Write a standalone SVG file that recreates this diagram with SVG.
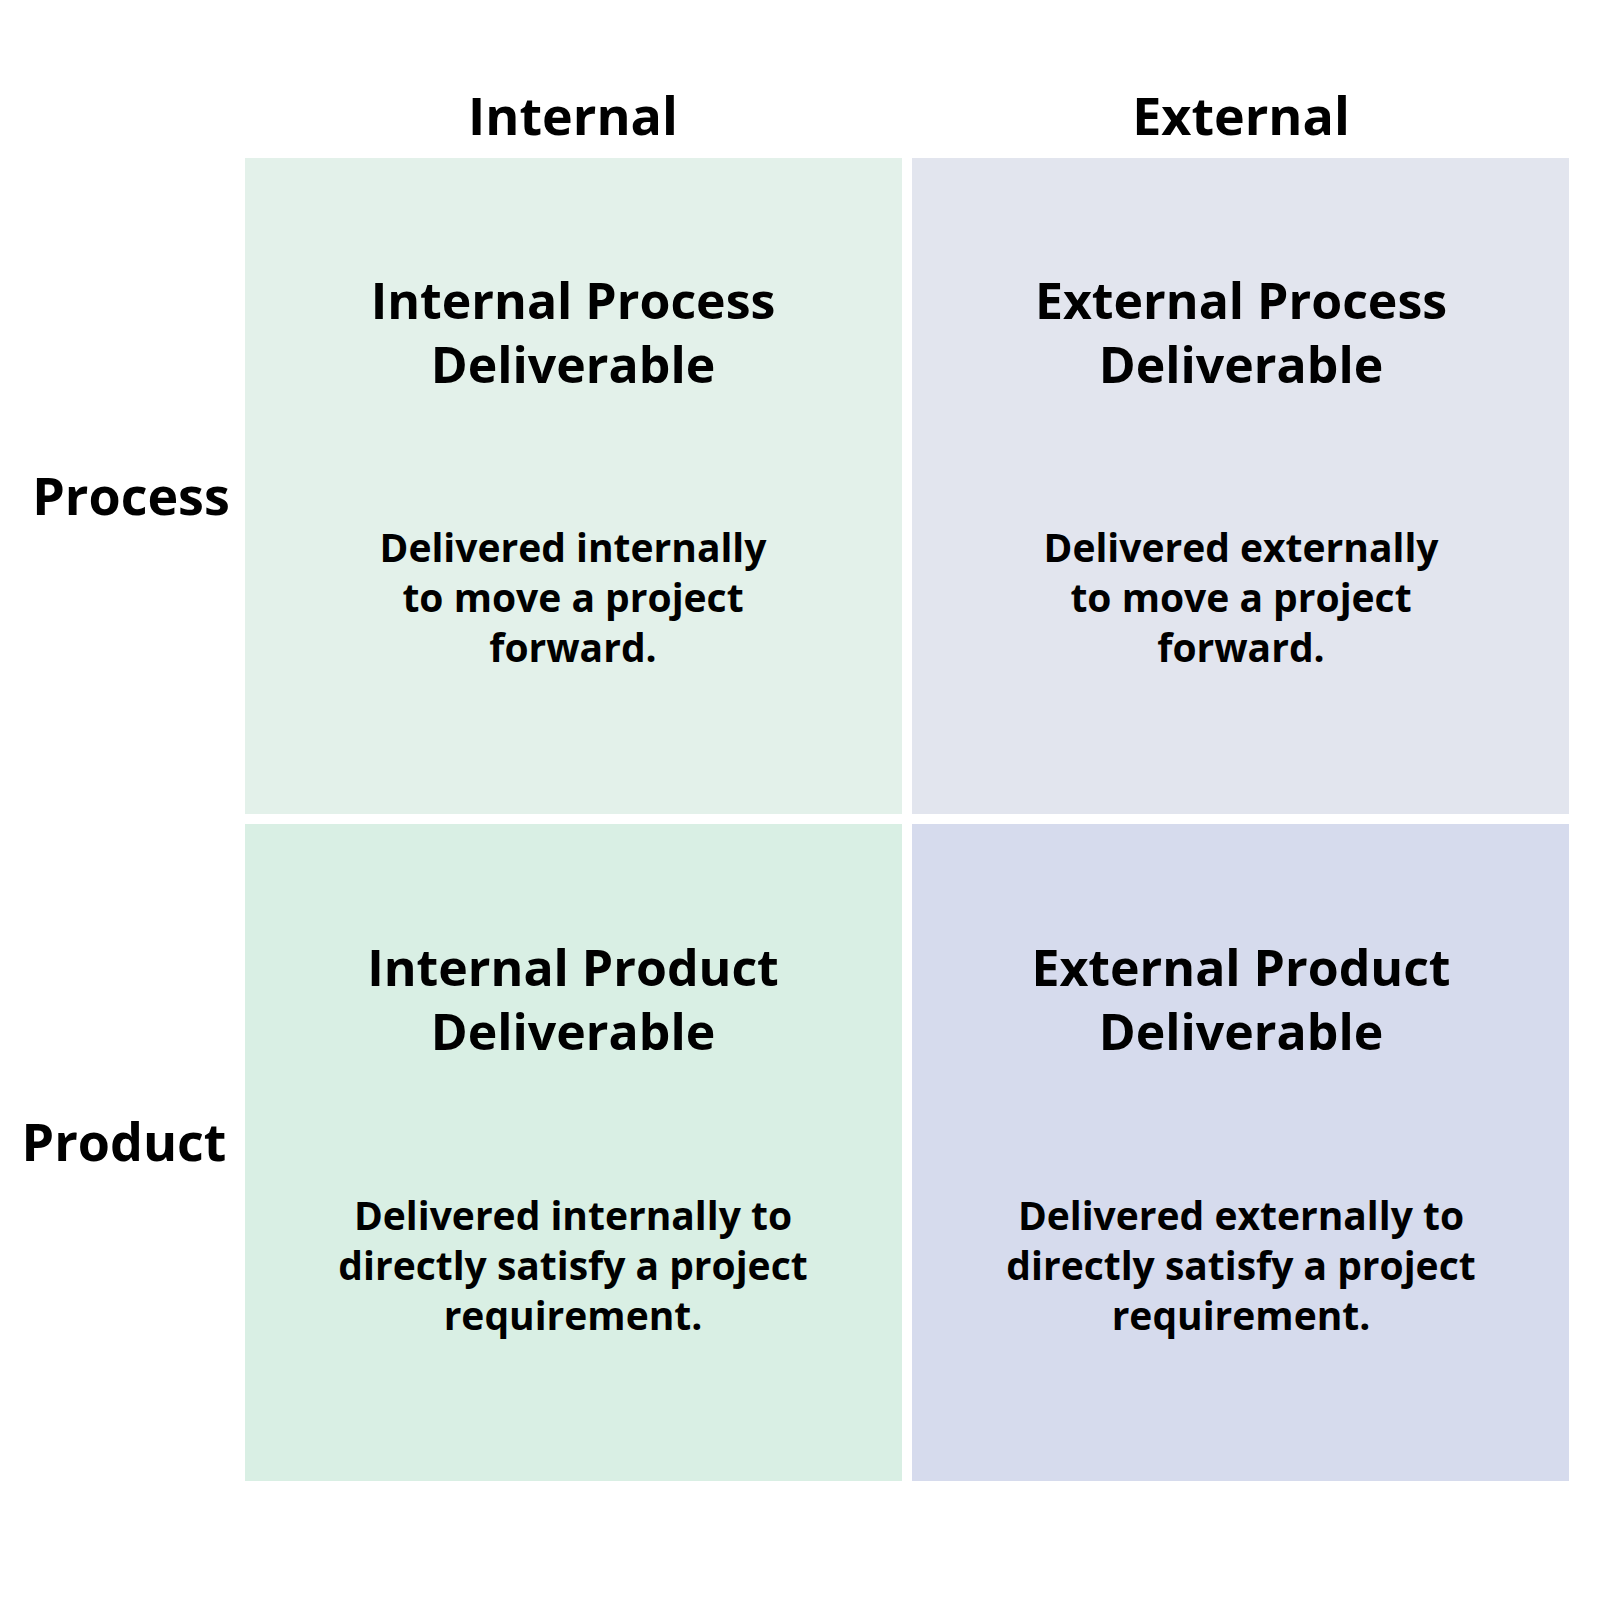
<svg xmlns="http://www.w3.org/2000/svg" width="1600" height="1600" viewBox="0 0 1600 1600">
<style>
text{font-family:"Open Sans","Noto Sans",sans-serif;font-weight:bold;fill:#000;text-anchor:middle}
.h{font-size:52px}
.t{font-size:50px}
.d{font-size:39px}
</style>
<rect width="1600" height="1600" fill="#fff"/>
<g id="headers">
<text class="h" x="573" y="135">Internal</text>
<text class="h" x="1241" y="135">External</text>
<text class="h" x="131" y="515">Process</text>
<text class="h" x="124" y="1161">Product</text>
</g>
<g id="q1">
<rect x="245" y="158" width="657" height="656" fill="#e3f1ea"/>
<text class="t" x="573" y="319">Internal Process</text>
<text class="t" x="573" y="383">Deliverable</text>
<text class="d" x="573" y="562">Delivered internally</text>
<text class="d" x="573" y="612">to move a project</text>
<text class="d" x="573" y="662">forward.</text>
</g>
<g id="q2">
<rect x="912" y="158" width="657" height="656" fill="#e2e5ee"/>
<text class="t" x="1241" y="319">External Process</text>
<text class="t" x="1241" y="383">Deliverable</text>
<text class="d" x="1241" y="562">Delivered externally</text>
<text class="d" x="1241" y="612">to move a project</text>
<text class="d" x="1241" y="662">forward.</text>
</g>
<g id="q3">
<rect x="245" y="824" width="657" height="657" fill="#d9efe4"/>
<text class="t" x="573" y="986">Internal Product</text>
<text class="t" x="573" y="1050">Deliverable</text>
<text class="d" x="573" y="1230">Delivered internally to</text>
<text class="d" x="573" y="1280">directly satisfy a project</text>
<text class="d" x="573" y="1330">requirement.</text>
</g>
<g id="q4">
<rect x="912" y="824" width="657" height="657" fill="#d6dbed"/>
<text class="t" x="1241" y="986">External Product</text>
<text class="t" x="1241" y="1050">Deliverable</text>
<text class="d" x="1241" y="1230">Delivered externally to</text>
<text class="d" x="1241" y="1280">directly satisfy a project</text>
<text class="d" x="1241" y="1330">requirement.</text>
</g>
<g id="connectors"/>
</svg>
